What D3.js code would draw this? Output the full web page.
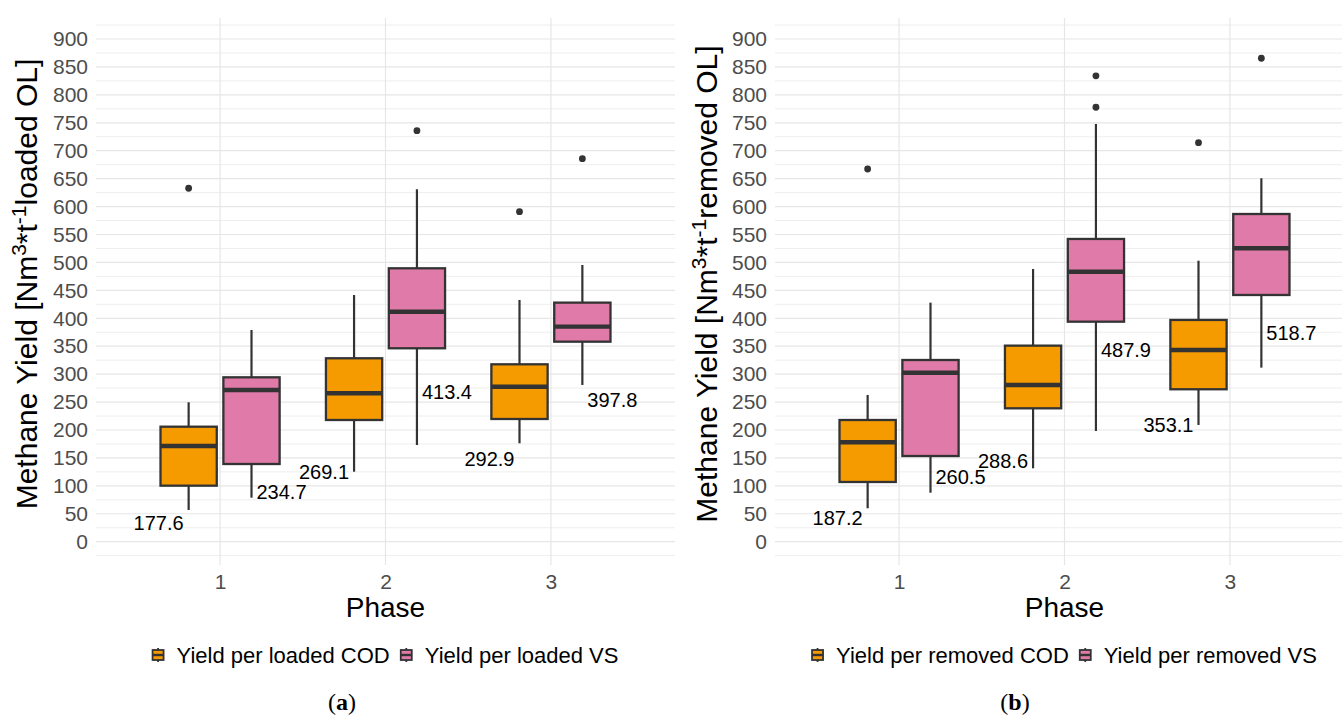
<!DOCTYPE html>
<html>
<head>
<meta charset="utf-8">
<script src="https://cdn.jsdelivr.net/npm/d3@7"></script>
<style>
  html, body { margin: 0; padding: 0; background: #ffffff; }
  svg { display: block; }
  text { font-family: "Liberation Sans", Arial, Helvetica, sans-serif; }
</style>
</head>
<body>
<svg id="chart" width="1342" height="724"></svg>
<script>
// ---- data -------------------------------------------------------------
const phases = [1, 2, 3];
const yTicks = [0, 50, 100, 150, 200, 250, 300, 350, 400, 450, 500, 550, 600, 650, 700, 750, 800, 850, 900];

// five-number summaries per phase: [lower whisker, Q1, median, Q3, upper whisker]
const loadedCOD = [[56.8, 100.3, 171.4, 205.9, 249.6], [125.3, 217.9, 265.7, 328.4, 441.7], [176.2, 219.7, 277.5, 317.6, 432.8]];
const loadedVS = [[78.8, 139.1, 271.6, 294.3, 379.0], [173.1, 346.3, 411.8, 489.5, 631.0], [280.6, 358.1, 385.0, 428.0, 495.4]];
const loadedCODOutliers = [[632.8], [], [590.9]];
const loadedVSOutliers = [[], [735.9], [685.8]];
const loadedCODMean = [177.6, 269.1, 292.9];
const loadedVSMean = [234.7, 413.4, 397.8];

const removedCOD = [[59.8, 106.9, 178.0, 217.9, 262.7], [131.4, 238.8, 280.6, 351.0, 488.3], [209.0, 272.9, 343.2, 397.0, 503.1]];
const removedVS = [[87.7, 153.4, 302.6, 325.3, 428.0], [198.2, 393.9, 483.4, 542.0, 747.9], [311.6, 441.7, 525.3, 586.7, 650.7]];
const removedCODOutliers = [[667.3], [], [714.4]];
const removedVSOutliers = [[], [834.0, 777.8], [865.5]];
const removedCODMean = [187.2, 288.6, 353.1];
const removedVSMean = [260.5, 487.9, 518.7];

const loadedSeries = ["Yield per loaded COD", "Yield per loaded VS"];
const removedSeries = ["Yield per removed COD", "Yield per removed VS"];

// ---- styling ----------------------------------------------------------
const fills = ["#F59B00", "#E07AA8"];
const ink = "#333333";
const meanNudge = -145;      // mean labels sit below the mean, in data units
const dodge = 0.19;          // box centre offset from the phase position
const boxWidth = 0.34;

const svg = d3.select("#chart");
svg.append("rect").attr("width", 1342).attr("height", 724).attr("fill", "#ffffff");

function drawPanel(opts) {
  const g = svg.append("g");
  const x = d3.scaleLinear().domain([0.25, 3.75]).range([opts.left, opts.left + 579]);
  const y = d3.scaleLinear().domain([0, 900]).range([541.7, 39]);
  const top = 18, bottom = 565;

  // horizontal grid: majors every 50, minors in between
  const minor = d3.range(-25, 926, 50);
  g.append("g").selectAll("line").data(minor).join("line")
    .attr("x1", x.range()[0]).attr("x2", x.range()[1])
    .attr("y1", d => y(d)).attr("y2", d => y(d))
    .attr("stroke", "#eeeeee").attr("stroke-width", 1);
  g.append("g").selectAll("line").data(yTicks).join("line")
    .attr("x1", x.range()[0]).attr("x2", x.range()[1])
    .attr("y1", d => y(d)).attr("y2", d => y(d))
    .attr("stroke", "#e6e6e6").attr("stroke-width", 1.2);
  g.append("g").selectAll("line").data(phases).join("line")
    .attr("x1", d => x(d)).attr("x2", d => x(d))
    .attr("y1", top).attr("y2", bottom)
    .attr("stroke", "#e6e6e6").attr("stroke-width", 1.2);

  // y axis (labels only)
  const yAxis = d3.axisLeft(y).tickValues(yTicks).tickSize(0).tickPadding(8);
  const ya = g.append("g").attr("transform", `translate(${x.range()[0]},0)`).call(yAxis);
  ya.select(".domain").remove();
  ya.selectAll("text").attr("font-size", 21).attr("fill", "#4d4d4d")
    .attr("font-family", "Liberation Sans, Arial, sans-serif");

  // x axis (labels only)
  const xAxis = d3.axisBottom(x).tickValues(phases).tickFormat(d3.format("d")).tickSize(0).tickPadding(0);
  const xa = g.append("g").attr("transform", `translate(0,${bottom})`).call(xAxis);
  xa.select(".domain").remove();
  xa.selectAll("text").attr("font-size", 21).attr("fill", "#4d4d4d").attr("dy", "1.15em")
    .attr("font-family", "Liberation Sans, Arial, sans-serif");

  // axis titles
  g.append("text").attr("x", (x.range()[0] + x.range()[1]) / 2).attr("y", 617)
    .attr("text-anchor", "middle").attr("font-size", 28).attr("fill", "#000").text("Phase");

  const yt = g.append("text")
    .attr("transform", `translate(${opts.titleX},284) rotate(-90)`)
    .attr("text-anchor", "middle").attr("font-size", 30).attr("fill", "#000");
  yt.append("tspan").text("Methane Yield [Nm");
  yt.append("tspan").attr("dy", -11).attr("font-size", 21).text("3");
  yt.append("tspan").attr("dy", 11).text("*t");
  yt.append("tspan").attr("dy", -11).attr("font-size", 21).text("-1");
  yt.append("tspan").attr("dy", 11).text(opts.titleTail);

  // boxplots
  opts.series.forEach((s, si) => {
    const off = si === 0 ? -dodge : dodge;
    const halfW = (x(boxWidth) - x(0)) / 2;
    const bg = g.append("g");
    const rows = s.stats.map((st, i) => ({
      cx: x(phases[i] + off), low: st[0], q1: st[1], med: st[2], q3: st[3], high: st[4],
      outliers: s.outliers[i], mean: s.mean[i]
    }));
    // whiskers
    bg.selectAll("line.wl").data(rows).join("line").attr("class", "wl")
      .attr("x1", d => d.cx).attr("x2", d => d.cx)
      .attr("y1", d => y(d.low)).attr("y2", d => y(d.q1))
      .attr("stroke", ink).attr("stroke-width", 2.2);
    bg.selectAll("line.wh").data(rows).join("line").attr("class", "wh")
      .attr("x1", d => d.cx).attr("x2", d => d.cx)
      .attr("y1", d => y(d.q3)).attr("y2", d => y(d.high))
      .attr("stroke", ink).attr("stroke-width", 2.2);
    // boxes
    bg.selectAll("rect").data(rows).join("rect")
      .attr("x", d => d.cx - halfW).attr("width", halfW * 2)
      .attr("y", d => y(d.q3)).attr("height", d => y(d.q1) - y(d.q3))
      .attr("fill", fills[si]).attr("stroke", ink).attr("stroke-width", 2.3);
    // medians
    bg.selectAll("line.md").data(rows).join("line").attr("class", "md")
      .attr("x1", d => d.cx - halfW).attr("x2", d => d.cx + halfW)
      .attr("y1", d => y(d.med)).attr("y2", d => y(d.med))
      .attr("stroke", ink).attr("stroke-width", 4.4);
    // outliers
    const outs = rows.flatMap(d => d.outliers.map(v => ({ cx: d.cx, v })));
    bg.selectAll("circle").data(outs).join("circle")
      .attr("cx", d => d.cx).attr("cy", d => y(d.v)).attr("r", 3.4).attr("fill", ink);
    // mean labels
    bg.selectAll("text").data(rows).join("text")
      .attr("x", d => d.cx + (si === 0 ? -5 : 5))
      .attr("y", d => y(d.mean + meanNudge)).attr("dy", "0.35em")
      .attr("text-anchor", si === 0 ? "end" : "start")
      .attr("font-size", 20).attr("fill", "#000")
      .text(d => d3.format(".1f")(d.mean));
  });

  // legend, centred under the panel
  const lg = g.append("g");
  const keyW = 11, keyGap = 13, itemGap = 11, ly = 655;
  let cursor = 0;
  const items = [];
  opts.series.forEach((s, si) => {
    const it = lg.append("g");
    it.append("line").attr("x1", keyW / 2).attr("x2", keyW / 2).attr("y1", -7).attr("y2", 7)
      .attr("stroke", ink).attr("stroke-width", 1.8);
    it.append("rect").attr("x", 0).attr("y", -5).attr("width", keyW).attr("height", 10)
      .attr("fill", fills[si]).attr("stroke", ink).attr("stroke-width", 1.8);
    it.append("line").attr("x1", 0).attr("x2", keyW).attr("y1", 0).attr("y2", 0)
      .attr("stroke", ink).attr("stroke-width", 2.4);
    const t = it.append("text").attr("x", keyW + keyGap).attr("y", 0).attr("dy", "0.35em")
      .attr("font-size", 22).attr("fill", "#000").text(s.name);
    const w = keyW + keyGap + t.node().getComputedTextLength();
    items.push({ node: it, start: cursor });
    cursor += w + itemGap;
  });
  const total = cursor - itemGap;
  const lx = (x.range()[0] + x.range()[1]) / 2 - total / 2;
  items.forEach(d => d.node.attr("transform", `translate(${lx + d.start},${ly})`));

  // panel caption
  const cap = svg.append("text").attr("x", opts.captionX).attr("y", 710)
    .attr("text-anchor", "middle").attr("font-size", 24).attr("fill", "#000")
    .style("font-family", "'Liberation Serif', 'DejaVu Serif', serif");
  cap.append("tspan").text("(");
  cap.append("tspan").attr("font-weight", "bold").text(opts.caption);
  cap.append("tspan").text(")");
}

drawPanel({
  left: 96, titleX: 37, titleTail: "loaded OL]", caption: "a", captionX: 342,
  series: [
    { name: loadedSeries[0], stats: loadedCOD, outliers: loadedCODOutliers, mean: loadedCODMean },
    { name: loadedSeries[1], stats: loadedVS, outliers: loadedVSOutliers, mean: loadedVSMean }
  ]
});
drawPanel({
  left: 775, titleX: 716.5, titleTail: "removed OL]", caption: "b", captionX: 1015,
  series: [
    { name: removedSeries[0], stats: removedCOD, outliers: removedCODOutliers, mean: removedCODMean },
    { name: removedSeries[1], stats: removedVS, outliers: removedVSOutliers, mean: removedVSMean }
  ]
});
</script>
</body>
</html>
